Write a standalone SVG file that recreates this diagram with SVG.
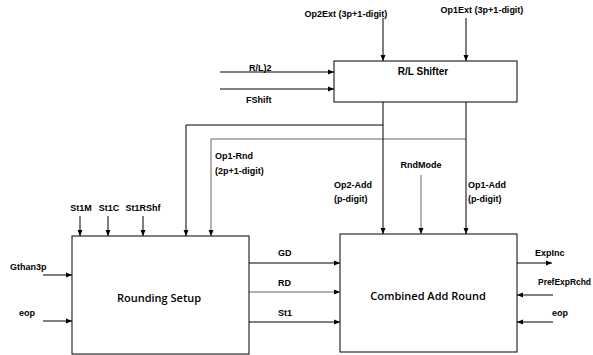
<svg xmlns="http://www.w3.org/2000/svg" width="593" height="355" viewBox="0 0 593 355">
<style>
.box{fill:#fff;stroke:#000;stroke-width:1}
.ln{fill:none;stroke:#000;stroke-width:1}
.gr{fill:none;stroke:#666;stroke-width:1}
.t{font-family:"Liberation Sans",Arial,sans-serif;font-weight:bold;font-size:9px;fill:#000}
.tm{font-family:"Liberation Sans",Arial,sans-serif;font-weight:bold;font-size:10px;fill:#000}
.tt{font-family:"Open Sans","Liberation Sans",sans-serif;font-weight:600;font-size:11px;fill:#000}
</style>
<defs>
<marker id="a" viewBox="0 0 6 6" refX="6" refY="3" markerWidth="6" markerHeight="6" orient="auto" markerUnits="userSpaceOnUse">
<path d="M0,0.5 L6,3 L0,5.5 z" fill="#000"/>
</marker>
</defs>
<rect width="593" height="355" fill="#fff"/>
<g id="connectors">
<line class="ln" x1="383" y1="18" x2="383" y2="61" marker-end="url(#a)"/>
<line class="ln" x1="466" y1="18" x2="466" y2="61" marker-end="url(#a)"/>
<line class="ln" x1="220" y1="72" x2="334" y2="72" marker-end="url(#a)"/>
<line class="ln" x1="220" y1="89" x2="334" y2="89" marker-end="url(#a)"/>
<polyline class="ln" points="383,102 383,125 186,125 186,236" marker-end="url(#a)"/>
<polyline class="gr" points="466,139 211,139 211,236" marker-end="url(#a)"/>
<line class="ln" x1="383" y1="125" x2="383" y2="234" marker-end="url(#a)"/>
<line class="ln" x1="466" y1="102" x2="466" y2="234" marker-end="url(#a)"/>
<line class="gr" x1="421" y1="175" x2="421" y2="234" marker-end="url(#a)"/>
<line class="ln" x1="80" y1="216" x2="80" y2="236" marker-end="url(#a)"/>
<line class="ln" x1="108" y1="216" x2="108" y2="236" marker-end="url(#a)"/>
<line class="ln" x1="143" y1="216" x2="143" y2="236" marker-end="url(#a)"/>
<line class="ln" x1="43" y1="275" x2="72" y2="275" marker-end="url(#a)"/>
<line class="ln" x1="43" y1="321" x2="72" y2="321" marker-end="url(#a)"/>
<line class="ln" x1="249" y1="263" x2="340" y2="263" marker-end="url(#a)"/>
<line class="gr" x1="249" y1="292" x2="340" y2="292" marker-end="url(#a)"/>
<line class="ln" x1="249" y1="322" x2="340" y2="322" marker-end="url(#a)"/>
<line class="ln" x1="517" y1="263" x2="552" y2="263" marker-end="url(#a)"/>
<line class="ln" x1="553" y1="295" x2="517" y2="295" marker-end="url(#a)"/>
<line class="ln" x1="553" y1="322" x2="517" y2="322" marker-end="url(#a)"/>
</g>
<g id="shifter">
<rect class="box" x="334" y="61" width="183" height="41"/>
<text class="tm" x="423" y="75" text-anchor="middle">R/L Shifter</text>
</g>
<g id="rounding-setup">
<rect class="box" x="72" y="236" width="177" height="118"/>
<text class="tt" x="159" y="302" text-anchor="middle">Rounding Setup</text>
</g>
<g id="combined-add-round">
<rect class="box" x="340" y="234" width="177" height="118"/>
<text class="tt" x="428" y="300" text-anchor="middle">Combined Add Round</text>
</g>
<g id="labels">
<text class="t" x="346" y="17" text-anchor="middle">Op2Ext (3p+1-digit)</text>
<text class="t" x="482" y="13" text-anchor="middle">Op1Ext (3p+1-digit)</text>
<text class="t" x="249" y="71">R/L)2</text>
<text class="t" x="246" y="103">FShift</text>
<text class="t" x="215" y="159">Op1-Rnd</text>
<text class="t" x="215" y="174">(2p+1-digit)</text>
<text class="t" x="421" y="168" text-anchor="middle">RndMode</text>
<text class="t" x="334" y="188">Op2-Add</text>
<text class="t" x="334" y="202">(p-digit)</text>
<text class="t" x="468" y="188">Op1-Add</text>
<text class="t" x="468" y="202">(p-digit)</text>
<text class="t" x="81" y="211" text-anchor="middle">St1M</text>
<text class="t" x="109" y="211" text-anchor="middle">St1C</text>
<text class="t" x="143" y="211" text-anchor="middle">St1RShf</text>
<text class="t" x="10" y="270">Gthan3p</text>
<text class="t" x="19" y="316">eop</text>
<text class="t" x="278" y="256">GD</text>
<text class="t" x="278" y="286">RD</text>
<text class="t" x="278" y="316">St1</text>
<text class="t" x="535" y="256">ExpInc</text>
<text class="t" x="538" y="285" style="font-size:8.5px" textLength="53" lengthAdjust="spacingAndGlyphs">PrefExpRchd</text>
<text class="t" x="552" y="316">eop</text>
</g>
</svg>
